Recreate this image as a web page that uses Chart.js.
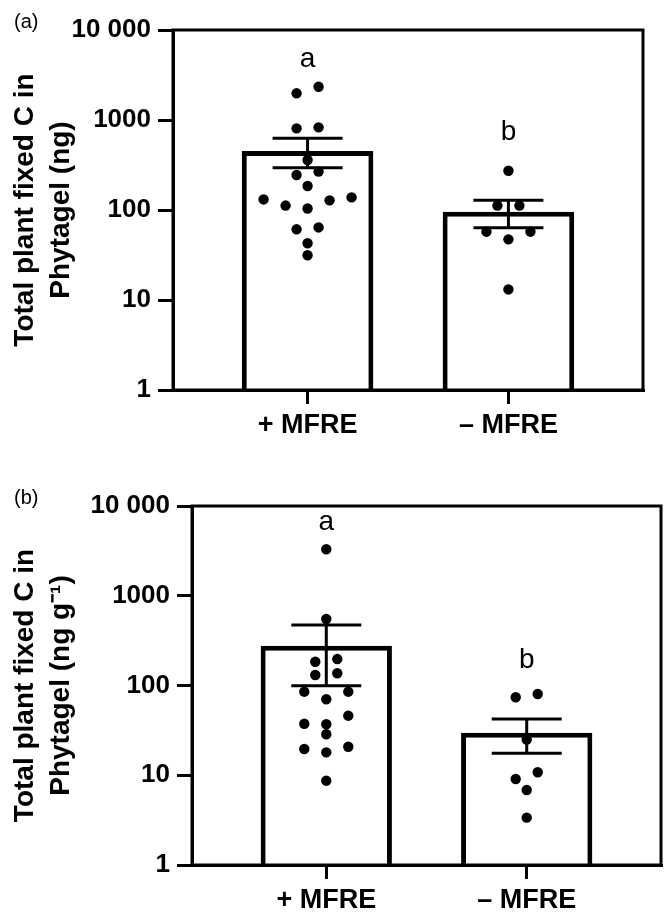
<!DOCTYPE html>
<html><head><meta charset="utf-8">
<script src="https://cdn.jsdelivr.net/npm/chart.js@4.4.1/dist/chart.umd.min.js"></script>
<style>
html,body{margin:0;padding:0;background:#fff;}
#wrap{position:relative;width:668px;height:912px;background:#fff;}
canvas{position:absolute;left:0;}
#ca{top:0;} #cb{top:456px;}
</style></head><body>
<div id="wrap">
<canvas id="ca" width="668" height="456" style="width:668px;height:456px"></canvas>
<canvas id="cb" width="668" height="456" style="width:668px;height:456px"></canvas>
</div>
<script>
// ---- data ----
const categories = ['+ MFRE', '\u2013 MFRE'];
const yTicks = [1, 10, 100, 1000, 10000];
const yTickLabels = ['1', '10', '100', '1000', '10 000'];

// Panel (a): total plant fixed C in Phytagel (ng)
const meanA = [452, 95.7];
const errLowA = [295, 63.6];
const errHighA = [626, 128];
const plusPointsA = [2344, 1979, 829, 808, 359, 267, 245, 185, 138, 131, 128, 112, 104, 64, 61, 42.7, 31.4];
const minusPointsA = [273, 112, 112, 57.4, 57.4, 47.2, 13.1];
const lettersA = ['a', 'b'];
const letterAtA = [3900, 600];

// Panel (b): total plant fixed C in Phytagel (ng g-1)
const meanB = [277, 29.8];
const errLowB = [99.5, 17.6];
const errHighB = [472, 42.3];
const plusPointsB = [3296, 551, 197, 184, 137, 131, 85.3, 85.3, 70.2, 46.1, 37.5, 37, 28.6, 20.8, 19.6, 18, 8.7];
const minusPointsB = [80.4, 73.9, 25, 10.8, 9.08, 6.85, 3.37];
const lettersB = ['a', 'b'];
const letterAtB = [5400, 157];

// ---- drawing ----
const FONT = "'Liberation Sans', Arial, Helvetica, sans-serif";
const STEP = 11;   // swarm slot width (px)
const ROW_H = 11.3; // rows of the swarm (px)

function swarm(chart, values, cat) {
  const xs = chart.scales.x, ys = chart.scales.y;
  const unit = xs.getPixelForValue(1) - xs.getPixelForValue(0);
  const items = values.map((v, i) => ({v, i, py: ys.getPixelForValue(v)})).sort((a, b) => a.py - b.py);
  const rows = [];
  items.forEach(it => {
    const r = rows[rows.length - 1];
    if (r && it.py - r[0].py <= ROW_H) r.push(it); else rows.push([it]);
  });
  const out = new Array(values.length);
  rows.forEach(r => {
    const asc = r.slice().sort((a, b) => a.v - b.v);
    const n = asc.length;
    asc.forEach((it, k) => {
      let slot;
      if (n % 2) slot = k === 0 ? 0 : (k % 2 ? -1 : 1) * Math.ceil(k / 2) * 2;
      else { const m = Math.floor(k / 2); slot = (k % 2 ? 1 : -1) * (2 * m + 1); }
      out[it.i] = {x: cat + slot * STEP / unit, y: it.v};
    });
  });
  return out;
}

function overlayPlugin(p) {
  return {
    id: 'overlay',
    afterDatasetsDraw(chart) {
      const {ctx, scales: {x, y}} = chart;
      ctx.save();
      ctx.strokeStyle = '#000'; ctx.lineWidth = 3; ctx.lineCap = 'butt';
      p.mean.forEach((m, i) => {
        const cx = x.getPixelForValue(i);
        const yl = y.getPixelForValue(p.errLow[i]);
        const yh = y.getPixelForValue(p.errHigh[i]);
        ctx.beginPath();
        ctx.moveTo(cx, yl); ctx.lineTo(cx, yh);
        ctx.moveTo(cx - 35, yl); ctx.lineTo(cx + 35, yl);
        ctx.moveTo(cx - 35, yh); ctx.lineTo(cx + 35, yh);
        ctx.stroke();
      });
      ctx.fillStyle = '#000';
      ctx.font = '28px ' + FONT;
      ctx.textAlign = 'center'; ctx.textBaseline = 'alphabetic';
      p.letters.forEach((l, i) => ctx.fillText(l, x.getPixelForValue(i), y.getPixelForValue(p.letterAt[i])));
      ctx.restore();
    },
    afterDraw(chart) {
      const {ctx, chartArea: a} = chart;
      ctx.save();
      ctx.strokeStyle = '#000'; ctx.lineWidth = 3;
      ctx.strokeRect(a.left, a.top, a.right - a.left, a.bottom - a.top);
      ctx.fillStyle = '#000';
      ctx.font = '20px ' + FONT;
      ctx.textAlign = 'left'; ctx.textBaseline = 'alphabetic';
      ctx.fillText(p.panel, 14, a.top - 2);
      ctx.restore();
    }
  };
}

function makeChart(id, p) {
  const chart = new Chart(document.getElementById(id), {
    type: 'bar',
    data: {
      datasets: [
        {
          type: 'bar', order: 2,
          data: p.mean.map((v, i) => ({x: i, y: v})),
          backgroundColor: '#fff', borderColor: '#000', borderWidth: 5,
          categoryPercentage: 1, barPercentage: 0.655
        },
        {
          type: 'scatter', order: 1,
          data: p.plus.map(v => ({x: 0, y: v})).concat(p.minus.map(v => ({x: 1, y: v}))),
          backgroundColor: '#000', borderColor: '#000', borderWidth: 0,
          pointRadius: 5.2, pointHoverRadius: 5.2
        }
      ]
    },
    options: {
      responsive: false, animation: false, devicePixelRatio: 1,
      events: [],
      layout: {padding: {top: p.padTop, right: p.padRight, left: 0, bottom: 0}},
      plugins: {legend: {display: false}, tooltip: {enabled: false}},
      scales: {
        x: {
          type: 'linear', min: -0.67, max: 1.67, offset: false,
          afterBuildTicks: s => { s.ticks = categories.map((c, i) => ({value: i})); },
          afterFit: s => { s.height = p.xH; },
          grid: {offset: false, drawOnChartArea: false, tickLength: 14, lineWidth: 3, color: '#000'},
          border: {width: 3, color: '#000'},
          ticks: {callback: v => categories[v], font: {family: FONT, size: 27, weight: 'bold'}, color: '#000', padding: 5, maxRotation: 0, autoSkip: false}
        },
        y: {
          type: 'logarithmic', min: 1, max: 10000,
          afterBuildTicks: s => { s.ticks = yTicks.map(v => ({value: v})); },
          afterFit: s => { s.width = p.yW; },
          grid: {drawOnChartArea: false, tickLength: 15, lineWidth: 3, color: '#000'},
          border: {width: 3, color: '#000'},
          ticks: {callback: v => yTickLabels[yTicks.indexOf(v)], font: {family: FONT, size: 26, weight: 'bold'}, color: '#000', padding: 7, autoSkip: false},
          title: {display: true, text: p.title, color: '#000', font: {family: FONT, size: 28, weight: 'bold', lineHeight: 1.29}, padding: {top: 7, bottom: 0}}
        }
      }
    },
    plugins: [overlayPlugin(p)]
  });
  chart.data.datasets[1].data = swarm(chart, p.plus, 0).concat(swarm(chart, p.minus, 1));
  chart.update();
  return chart;
}

makeChart('ca', {
  panel: '(a)', mean: meanA, errLow: errLowA, errHigh: errHighA,
  plus: plusPointsA, minus: minusPointsA, letters: lettersA, letterAt: letterAtA,
  title: ['Total plant fixed C in', 'Phytagel (ng)'],
  padTop: 30, padRight: 25, yW: 173, xH: 66
});
makeChart('cb', {
  panel: '(b)', mean: meanB, errLow: errLowB, errHigh: errHighB,
  plus: plusPointsB, minus: minusPointsB, letters: lettersB, letterAt: letterAtB,
  title: ['Total plant fixed C in', 'Phytagel (ng g\u207B\u00B9)'],
  padTop: 50, padRight: 7, yW: 192, xH: 47
});
</script>
</body></html>
